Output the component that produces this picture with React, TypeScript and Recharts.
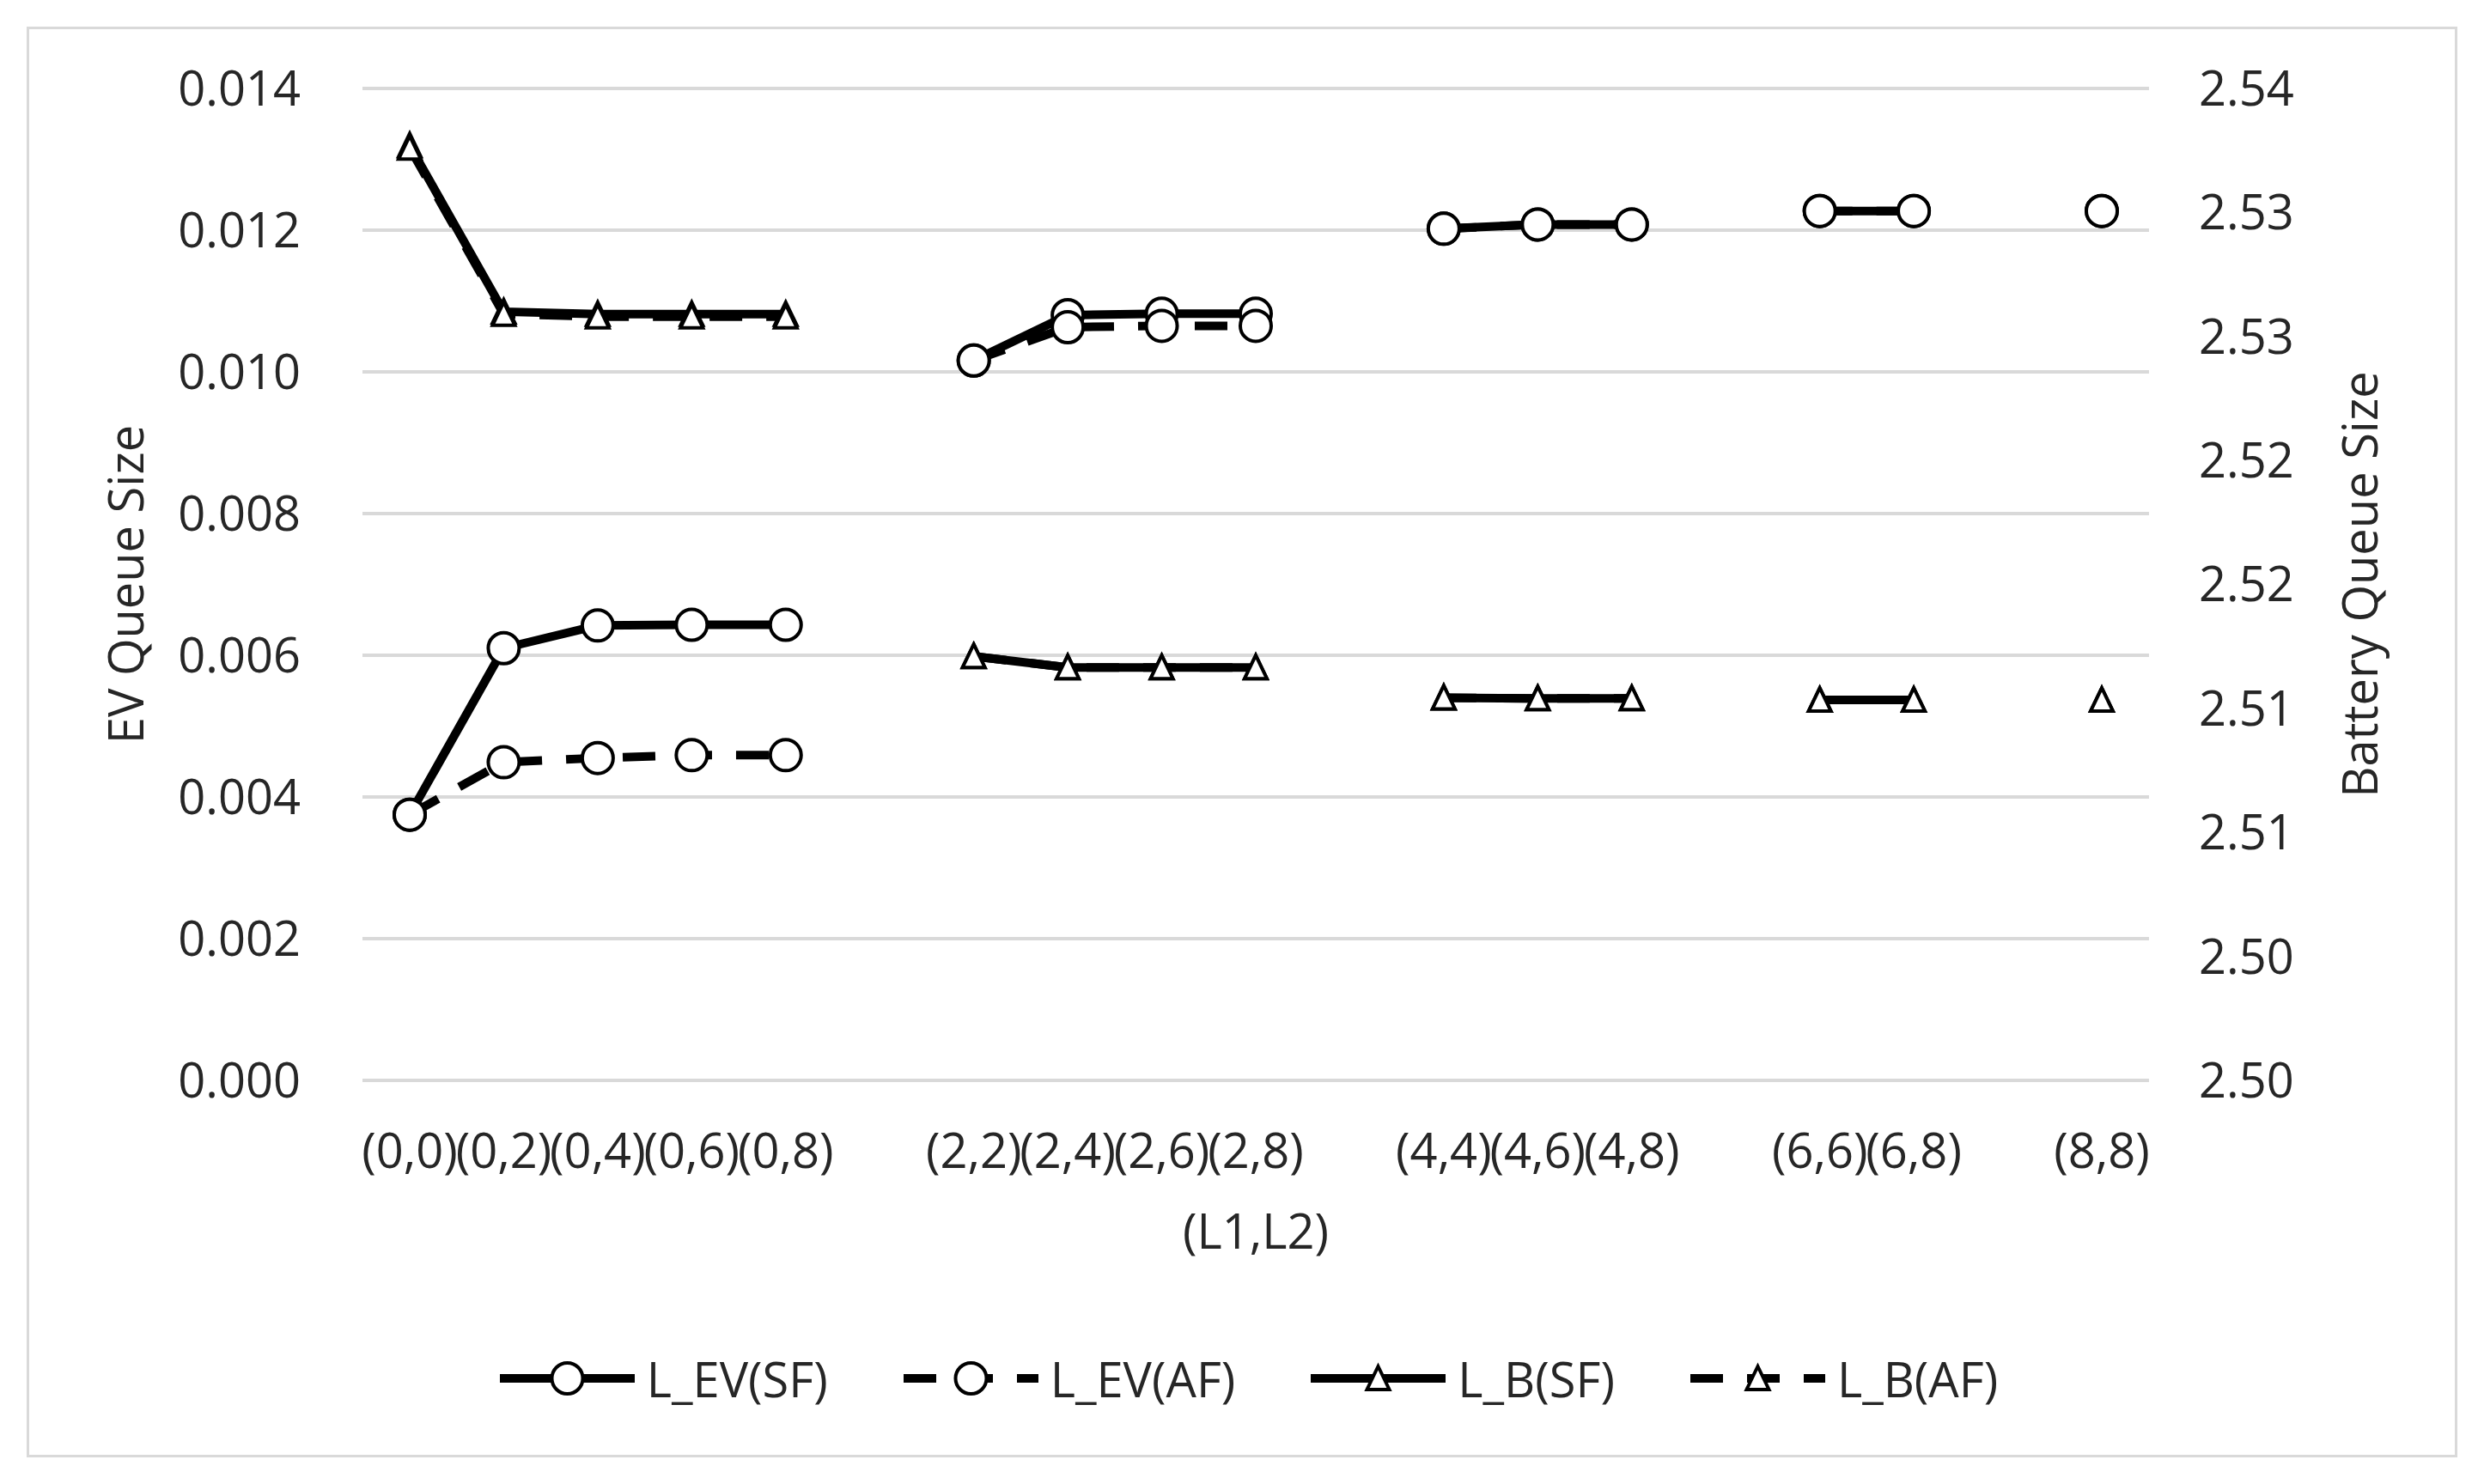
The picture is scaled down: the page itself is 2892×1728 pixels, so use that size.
import { LineChart, Line, XAxis, YAxis, CartesianGrid, Legend } from 'recharts';

const CATEGORIES = [
  '(0,0)', '(0,2)', '(0,4)', '(0,6)', '(0,8)', '',
  '(2,2)', '(2,4)', '(2,6)', '(2,8)', '',
  '(4,4)', '(4,6)', '(4,8)', '',
  '(6,6)', '(6,8)', '',
  '(8,8)',
];

const EV_SF = [
  0.00375, 0.0061, 0.00642, 0.00643, 0.00643, null,
  0.01016, 0.0108, 0.01082, 0.01082, null,
  0.01202, 0.01208, 0.01208, null,
  0.01227, 0.01227, null,
  0.01227,
];
const EV_AF = [
  0.00375, 0.00449, 0.00455, 0.00459, 0.00459, null,
  0.01016, 0.01063, 0.01065, 0.01065, null,
  0.01202, 0.01208, 0.01208, null,
  0.01227, 0.01227, null,
  0.01227,
];
const B_SF = [
  2.5377, 2.531, 2.5309, 2.5309, 2.5309, null,
  2.5171, 2.51665, 2.51665, 2.51665, null,
  2.51543, 2.5154, 2.5154, null,
  2.51534, 2.51534, null,
  2.51534,
];
const B_AF = [
  2.5376, 2.5309, 2.5308, 2.5308, 2.5308, null,
  2.5171, 2.51665, 2.51665, 2.51665, null,
  2.51543, 2.5154, 2.5154, null,
  2.51534, 2.51534, null,
  2.51534,
];

const LEFT_TICKS = [0, 0.002, 0.004, 0.006, 0.008, 0.01, 0.012, 0.014];
const RIGHT_TICKS = [2.5, 2.505, 2.51, 2.515, 2.52, 2.525, 2.53, 2.535, 2.54];
const RIGHT_TICK_LABELS = ['2.50', '2.50', '2.51', '2.51', '2.52', '2.52', '2.53', '2.53', '2.54'];

const SERIES = [
  { key: 'evSF', name: 'L_EV(SF)', axis: 'left', marker: 'circle', dashed: false },
  { key: 'evAF', name: 'L_EV(AF)', axis: 'left', marker: 'circle', dashed: true },
  { key: 'bSF', name: 'L_B(SF)', axis: 'right', marker: 'triangle', dashed: false },
  { key: 'bAF', name: 'L_B(AF)', axis: 'right', marker: 'triangle', dashed: true },
];

const data = CATEGORIES.map((label, i) => ({
  label,
  evSF: EV_SF[i],
  evAF: EV_AF[i],
  bSF: B_SF[i],
  bAF: B_AF[i],
}));

const FONT = '"Open Sans", sans-serif';
const TEXT = '#262626';
const FS = 56;
const LINE_W = 10;
const DASH = '38 28';

function Marker({ type, cx, cy }: { type: string; cx: number; cy: number }) {
  if (type === 'circle') {
    return <circle cx={cx} cy={cy} r={18} fill="#fff" stroke="#000" strokeWidth={4} />;
  }
  const d = `M${cx},${cy - 14} L${cx + 13},${cy + 13} L${cx - 13},${cy + 13} Z`;
  return <path d={d} fill="#fff" stroke="#000" strokeWidth={4} strokeLinejoin="miter" />;
}

const makeDot = (type: string) => (p: any) => {
  const k = `${type}-${p.dataKey}-${p.index}`;
  if (p.cx == null || p.cy == null || p.value == null) return <g key={k} />;
  return (
    <g key={k}>
      <Marker type={type} cx={p.cx} cy={p.cy} />
    </g>
  );
};

function LegendContent() {
  return (
    <div
      style={{
        height: 100,
        display: 'flex',
        justifyContent: 'center',
        alignItems: 'center',
        paddingLeft: 16,
        fontFamily: FONT,
        fontSize: FS,
        color: TEXT,
      }}
    >
      {SERIES.map((s, i) => (
        <div key={s.key} style={{ display: 'flex', alignItems: 'center', marginLeft: i === 0 ? 0 : 88 }}>
          <svg width={157} height={50}>
            <line
              x1={0}
              y1={25}
              x2={157}
              y2={25}
              stroke="#000"
              strokeWidth={LINE_W}
              strokeDasharray={s.dashed ? DASH : undefined}
            />
            <Marker type={s.marker} cx={78.5} cy={25} />
          </svg>
          <span style={{ marginLeft: 14, lineHeight: 1 }}>{s.name}</span>
        </div>
      ))}
    </div>
  );
}

export default function App() {
  return (
    <div style={{ position: 'absolute', left: 0, top: 0, width: 2892, height: 1728, fontFamily: FONT, background: '#fff' }}>
      <div
        style={{
          position: 'absolute',
          left: 31,
          top: 31,
          width: 2830,
          height: 1666,
          border: '3px solid #d9d9d9',
          boxSizing: 'border-box',
        }}
      />
      <LineChart
        width={2892}
        height={1728}
        data={data}
        margin={{ top: 103, right: 0, left: 0, bottom: 73 }}
        style={{ fontFamily: FONT }}
      >
        <CartesianGrid yAxisId="left" vertical={false} stroke="#d9d9d9" strokeWidth={4} />
        <XAxis
          dataKey="label"
          interval={0}
          height={297}
          axisLine={false}
          tickLine={false}
          tickMargin={56}
          padding={{ left: 55, right: 55 }}
          tick={{ fontSize: FS, fill: TEXT, fontFamily: FONT }}
          label={{
            content: (props: any) => {
              const vb = props.viewBox;
              return (
                <text x={vb.x + vb.width / 2} y={vb.y + 196} textAnchor="middle" fontSize={FS} fill={TEXT} fontFamily={FONT}>
                  (L1,L2)
                </text>
              );
            },
          }}
        />
        <YAxis
          yAxisId="left"
          width={422}
          domain={[0, 0.014]}
          ticks={LEFT_TICKS}
          axisLine={false}
          tickLine={false}
          tickMargin={66}
          tickFormatter={(v: number) => v.toFixed(3)}
          tick={{ fontSize: FS, fill: TEXT, fontFamily: FONT }}
          label={{
            content: (props: any) => {
              const vb = props.viewBox;
              const x = vb.x + 167;
              const y = vb.y + vb.height / 2;
              return (
                <text x={x} y={y} transform={`rotate(-90, ${x}, ${y})`} textAnchor="middle" fontSize={FS} fill={TEXT} fontFamily={FONT}>
                  EV Queue Size
                </text>
              );
            },
          }}
        />
        <YAxis
          yAxisId="right"
          orientation="right"
          width={390}
          domain={[2.5, 2.54]}
          ticks={RIGHT_TICKS}
          axisLine={false}
          tickLine={false}
          tickMargin={52}
          tickFormatter={(_v: number, i: number) => RIGHT_TICK_LABELS[i]}
          tick={{ fontSize: FS, fill: TEXT, fontFamily: FONT }}
          label={{
            content: (props: any) => {
              const vb = props.viewBox;
              const x = vb.x + 266;
              const y = vb.y + vb.height / 2;
              return (
                <text x={x} y={y} transform={`rotate(-90, ${x}, ${y})`} textAnchor="middle" fontSize={FS} fill={TEXT} fontFamily={FONT}>
                  Battery Queue Size
                </text>
              );
            },
          }}
        />
        <Legend verticalAlign="bottom" content={() => <LegendContent />} />
        {SERIES.map((s) => (
          <Line
            key={s.key}
            yAxisId={s.axis}
            dataKey={s.key}
            name={s.name}
            type="linear"
            stroke="#000"
            strokeWidth={LINE_W}
            strokeDasharray={s.dashed ? DASH : undefined}
            dot={makeDot(s.marker)}
            activeDot={false}
            isAnimationActive={false}
          />
        ))}
      </LineChart>
    </div>
  );
}
